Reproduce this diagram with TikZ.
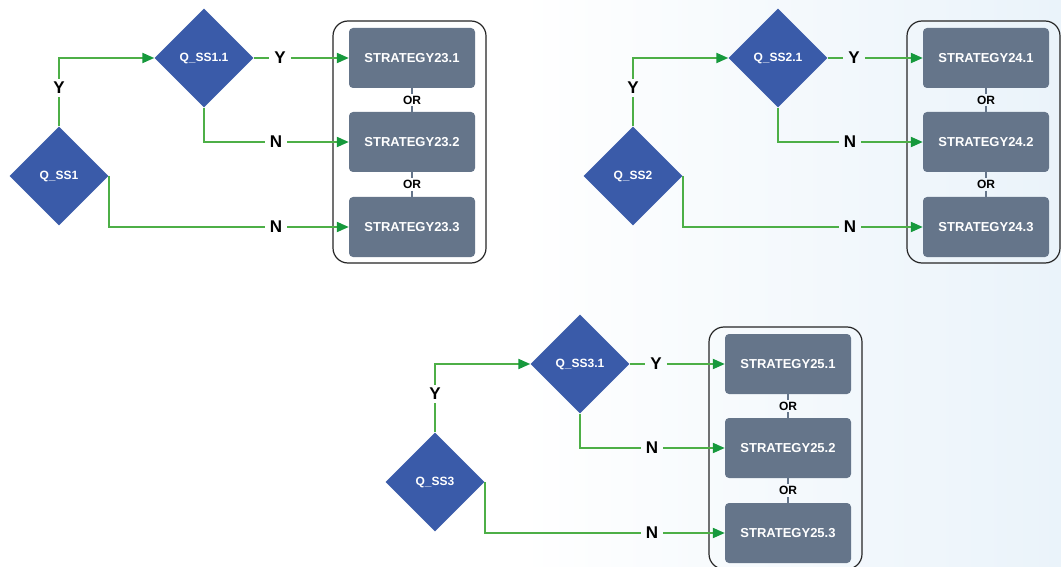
\documentclass[tikz,border=0pt]{standalone}
\usepackage{fontspec}
\setmainfont{Liberation Sans}
\usetikzlibrary{shapes.geometric,arrows.meta,calc}
\definecolor{diablue}{HTML}{3A5BA9}
\definecolor{stratgray}{HTML}{65758A}
\definecolor{lgreen}{HTML}{4DAF47}
\definecolor{agreen}{HTML}{16993C}
\definecolor{bgblue}{HTML}{EAF3FA}
\tikzset{
  dia/.style={diamond, aspect=1, minimum size=99pt, inner sep=0pt, fill=diablue, text=white,
    font=\fontsize{12}{12}\selectfont\bfseries},
  strat/.style={rectangle, rounded corners=4pt, minimum width=126pt, minimum height=60pt,
    fill=stratgray, text=white, font=\fontsize{13}{13}\selectfont\bfseries},
  cont/.style={rectangle, rounded corners=15pt, draw=black!85, line width=1.2pt,
    minimum width=153pt, minimum height=242pt},
  ortxt/.style={inner xsep=2pt, inner ysep=2pt, font=\fontsize{12}{12}\selectfont\bfseries},
  yn/.style={inner xsep=5pt, inner ysep=3pt, font=\fontsize{17}{17}\selectfont\bfseries},
  orline/.style={draw=stratgray, line width=1.5pt},
  gline/.style={draw=lgreen, line width=2pt},
  garrow/.style={gline, -{Triangle[length=12pt,width=10pt,color=agreen]}},
}
\newcommand\drawgroup[5]{%
\begin{scope}[shift={(#1,#2)}]
  \node[cont] (box#3) at (409.5,142) {};
  \node[dia] (qa#3) at (59,176) {Q\_SS#4};
  \node[dia] (qb#3) at (204,58) {Q\_SS#4.1};
  \node[strat] (sa#3) at (412,58) {STRATEGY#5.1};
  \node[strat] (sb#3) at (412,142) {STRATEGY#5.2};
  \node[strat] (sc#3) at (412,227) {STRATEGY#5.3};
  \node[ortxt] (oa#3) at ($(sa#3.south)!0.5!(sb#3.north)$) {OR};
  \node[ortxt] (ob#3) at ($(sb#3.south)!0.5!(sc#3.north)$) {OR};
  \draw[orline] (sa#3) -- (oa#3);
  \draw[orline] (oa#3) -- (sb#3);
  \draw[orline] (sb#3) -- (ob#3);
  \draw[orline] (ob#3) -- (sc#3);
  \node[yn] (ya#3) at (59,88) {Y};
  \node[yn] (yb#3) at (280,58) {Y};
  \node[yn] (na#3) at (276,142) {N};
  \node[yn] (nb#3) at (276,227) {N};
  \draw[gline] (qa#3) -- (ya#3);
  \draw[garrow] (ya#3) |- (qb#3);
  \draw[gline] (qb#3) -- (yb#3);
  \draw[garrow] (yb#3) -- (sa#3);
  \draw[gline] (qb#3.south) |- (na#3);
  \draw[garrow] (na#3) -- (sb#3);
  \draw[gline] (qa#3.east) |- (nb#3);
  \draw[garrow] (nb#3) -- (sc#3);
\end{scope}}
\begin{document}
\begin{tikzpicture}[x=1pt,y=-1pt]
  \useasboundingbox (0,0) rectangle (1061,567);
  \fill[white] (0,0) rectangle (1061,567);
  \shade[left color=white, right color=bgblue] (520,0) rectangle (1061,567);
  \drawgroup{0}{0}{1}{1}{23}
  \drawgroup{574}{0}{2}{2}{24}
  \drawgroup{376}{306}{3}{3}{25}
\end{tikzpicture}
\end{document}
